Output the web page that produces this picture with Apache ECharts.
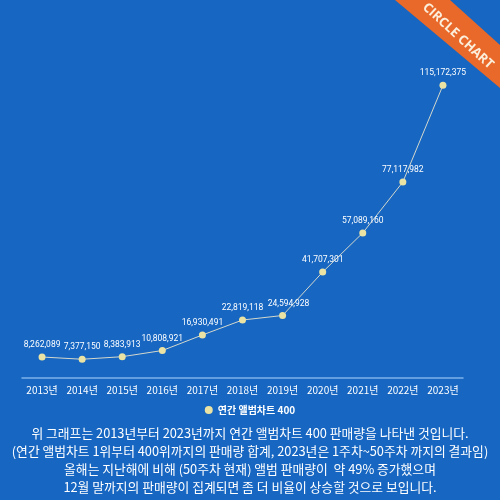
<!DOCTYPE html>
<html>
<head>
<meta charset="utf-8">
<script src="https://cdn.jsdelivr.net/npm/echarts@6/dist/echarts.min.js"></script>
<style>
    html, body { margin: 0; padding: 0; background: #1666c2; }
    #chart { width: 500px; height: 500px; }
</style>
</head>
<body>
<div id="chart"></div>
<script>
const years = ['2013년', '2014년', '2015년', '2016년', '2017년', '2018년', '2019년', '2020년', '2021년', '2022년', '2023년'];
const sales = [8262089, 7377150, 8383913, 10808921, 16930491, 22819118, 24594928, 41707301, 57089160, 77117982, 115172375];
const seriesName = '연간 앨범차트 400';
const descriptionLines = [
    '위 그래프는 2013년부터 2023년까지 연간 앨범차트 400 판매량을 나타낸 것입니다.',
    '(연간 앨범차트 1위부터 400위까지의 판매량 합계, 2023년은 1주차~50주차 까지의 결과임)',
    '올해는 지난해에 비해 (50주차 현재) 앨범 판매량이  약 49% 증가했으며',
    '12월 말까지의 판매량이 집계되면 좀 더 비율이 상승할 것으로 보입니다.'
];

const fontFamily = '"Noto Sans CJK KR", "Noto Sans", sans-serif';
const chart = echarts.init(document.getElementById('chart'), null, { renderer: 'canvas' });

chart.setOption({
    backgroundColor: '#1666c2',
    animation: false,
    textStyle: { fontFamily },
    grid: { left: 22, right: 37, top: 73, bottom: 122 },
    legend: {
        top: 400,
        left: 'center',
        icon: 'circle',
        itemWidth: 8,
        itemHeight: 8,
        itemGap: 6,
        textStyle: { color: '#ffffff', fontSize: 10, fontWeight: 'bold', fontFamily },
        data: [seriesName]
    },
    xAxis: {
        type: 'category',
        data: years,
        boundaryGap: true,
        axisLine: { lineStyle: { color: '#7db3ea', width: 1.5 } },
        axisTick: { show: false },
        axisLabel: { color: '#ffffff', fontSize: 10, margin: 7, interval: 0, fontFamily }
    },
    yAxis: {
        type: 'value',
        min: 0,
        max: 120000000,
        show: false,
        splitLine: { show: false }
    },
    series: [{
        name: seriesName,
        type: 'line',
        data: sales,
        symbol: 'circle',
        symbolSize: 7,
        lineStyle: { color: '#d4d8cc', width: 1 },
        itemStyle: { color: '#ebe3a3' },
        label: {
            show: true,
            position: 'top',
            distance: 4,
            color: '#ffffff',
            fontSize: 8.5,
            fontFamily: 'Roboto, sans-serif',
            formatter: (p) => Number(p.value).toLocaleString('en-US')
        },
        labelLayout: (params) => params.dataIndex === 6 ? { dx: 6 } : {}
    }],
    graphic: [
        {
            // CIRCLE CHART corner ribbon
            type: 'polygon',
            shape: { points: [[395, 0], [450, 0], [500, 45], [500, 88]] },
            style: { fill: '#e8692a' },
            silent: true
        },
        {
            type: 'text',
            x: 458,
            y: 36,
            rotation: -0.74,
            style: {
                text: 'CIRCLE CHART',
                fill: '#fbefdc',
                font: 'bold 13px "Open Sans", sans-serif',
                textAlign: 'center',
                textVerticalAlign: 'middle'
            },
            silent: true
        },
        {
            type: 'text',
            x: 250,
            y: 424,
            style: {
                text: descriptionLines.join('\n'),
                fill: '#ffffff',
                font: '12.8px ' + fontFamily,
                lineHeight: 18,
                textAlign: 'center'
            },
            silent: true
        }
    ]
});
</script>
</body>
</html>
